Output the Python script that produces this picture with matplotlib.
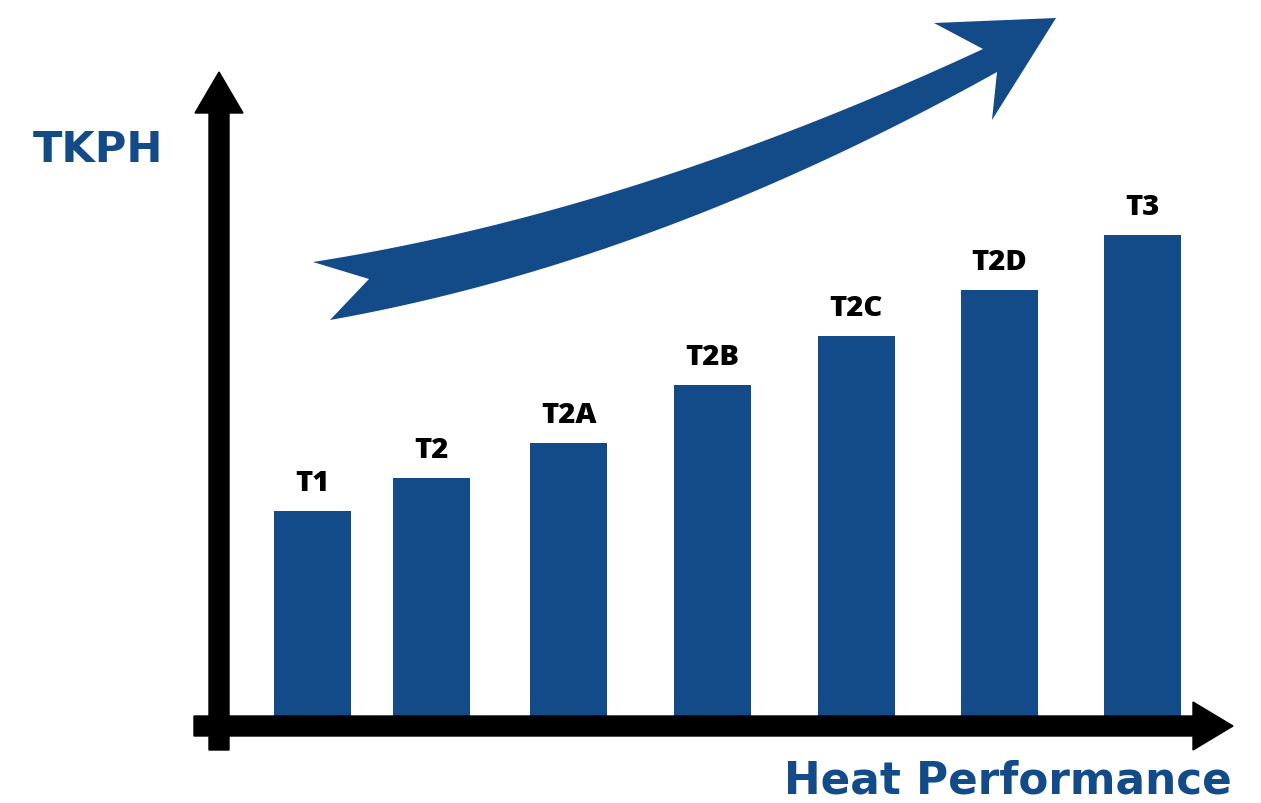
import numpy as np
import matplotlib.pyplot as plt
from matplotlib.patches import Polygon

# data
categories = ['T1', 'T2', 'T2A', 'T2B', 'T2C', 'T2D', 'T3']
tkph = [205, 238, 273, 331, 380, 426, 481]

# layout (pixel units of the 1261x804 canvas)
W, H = 1261, 804
base_y = 717
bar_x = [312.5, 431, 568.5, 712, 856, 999, 1142.5]
bar_w = 77
blue = '#134a88'


def bezier(p0, c, p2, n=80):
    t = np.linspace(0, 1, n)[:, None]
    p0, c, p2 = np.array(p0), np.array(c), np.array(p2)
    return (1 - t) ** 2 * p0 + 2 * (1 - t) * t * c + t ** 2 * p2


fig = plt.figure(figsize=(W / 100, H / 100), dpi=100)

# bars
ax_bar = fig.add_axes([0, (H - base_y) / H, 1, base_y / H])
ax_bar.bar(bar_x, tkph, width=bar_w, color=blue, zorder=2)
for x, v, name in zip(bar_x, tkph, categories):
    ax_bar.annotate(name, (x, v), xytext=(0, 15), textcoords='offset points',
                    ha='center', va='baseline', fontsize=21, fontweight='heavy',
                    family='Open Sans', color='black')
ax_bar.set_xlim(0, W)
ax_bar.set_ylim(0, base_y)
ax_bar.axis('off')

# overlay for axes arrows, trend arrow and titles
ax = fig.add_axes([0, 0, 1, 1])
ax.set_xlim(0, W)
ax.set_ylim(H, 0)
ax.axis('off')
ax.patch.set_alpha(0)

# y axis arrow
ax.add_patch(Polygon([(209, 751), (209, 114), (195, 114), (219, 73), (243, 114),
                      (229, 114), (229, 751)], closed=True, color='black'))
# x axis arrow
ax.add_patch(Polygon([(194, 717), (1193, 717), (1193, 703), (1233, 727), (1193, 751),
                      (1193, 737), (194, 737)], closed=True, color='black'))

# curved trend arrow
upper = bezier((313, 263), (632, 213), (983, 50))
lower = bezier((330, 321), (656, 263), (997, 73))
head = [(934, 24), (1056, 19), (992, 121)]
pts = np.vstack([upper, head, lower[::-1], [(369, 280)]])
ax.add_patch(Polygon(pts, closed=True, color=blue, lw=0))

ax.text(33, 162, 'TKPH', ha='left', va='baseline', fontsize=31,
        fontweight='bold', color=blue)
ax.text(1232, 803, 'Heat Performance', ha='right', va='bottom', fontsize=31.5,
        fontweight='bold', color=blue)

fig.savefig('out.png', dpi=100, facecolor='white')
